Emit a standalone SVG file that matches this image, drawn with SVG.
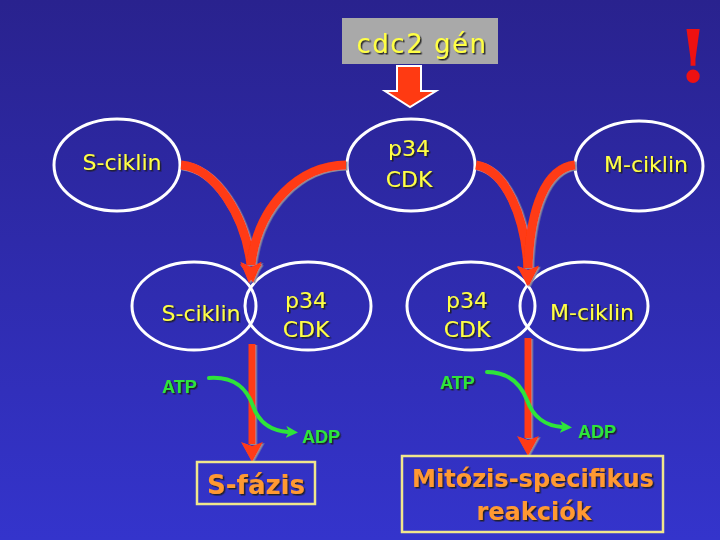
<svg xmlns="http://www.w3.org/2000/svg" width="720" height="540" viewBox="0 0 720 540">
<defs>
<linearGradient id="bg" x1="0" y1="0" x2="0" y2="1">
<stop offset="0" stop-color="#29228e"/>
<stop offset="1" stop-color="#3434cc"/>
</linearGradient>
<filter id="sh" x="-10%" y="-10%" width="130%" height="140%">
<feDropShadow dx="1.5" dy="1.5" stdDeviation="0.4" flood-color="#1a1a1a" flood-opacity="0.9"/>
</filter>
<filter id="ash" x="-20%" y="-20%" width="150%" height="150%">
<feDropShadow dx="1.5" dy="1" stdDeviation="0" flood-color="#8a8a9a"/>
</filter>
<marker id="rh" markerUnits="userSpaceOnUse" viewBox="0 0 20 22" markerWidth="20" markerHeight="22" refX="2" refY="11" orient="auto">
<path d="M0,0 L20,11 L0,22 L4,11 z" fill="#ff3a12"/>
</marker>
<marker id="gh" markerUnits="userSpaceOnUse" viewBox="0 0 12 12" markerWidth="12" markerHeight="12" refX="2" refY="6" orient="auto">
<path d="M0,0 L12,6 L0,12 L3,6 z" fill="#2ee43a"/>
</marker>
<style>
.ell{fill:none;stroke:#ffffff;stroke-width:3}
.yt{font-family:"DejaVu Sans",sans-serif;font-size:22px;fill:#ffff44;filter:url(#sh)}
.ot{font-family:"DejaVu Sans",sans-serif;font-weight:bold;fill:#ff9933;filter:url(#sh)}
.gt{font-family:"Liberation Sans",sans-serif;font-weight:bold;font-size:18px;fill:#2ee43a;filter:url(#sh)}
.red{fill:none;stroke:#ff3a12;stroke-width:9}
.rv{fill:none;stroke:#ff3a12;stroke-width:7}
.grn{fill:none;stroke:#2ee43a;stroke-width:4;stroke-linecap:round}
.box{fill:none;stroke:#f0e68c;stroke-width:2.5}
</style>
</defs>
<rect width="720" height="540" fill="url(#bg)"/>

<g id="gene">
<rect x="342" y="18" width="156" height="46" fill="#a9a9a9"/>
<text x="422" y="53" text-anchor="middle" class="yt" style="font-size:26px" letter-spacing="1.5">cdc2 gén</text>
<path d="M397,66 L421,66 L421,91 L436,91 L410,107 L385,91 L397,91 z" fill="#ff3a12" stroke="#ffffff" stroke-width="2"/>
</g>

<g id="excl">
<text x="693" y="82" text-anchor="middle" font-family="DejaVu Serif, serif" font-weight="bold" font-size="72" fill="#ee1111">!</text>
</g>

<g id="sciklin-top">
<ellipse class="ell" cx="117" cy="165" rx="63" ry="46"/>
<text x="122" y="170" text-anchor="middle" class="yt">S-ciklin</text>
</g>
<g id="p34-top">
<ellipse class="ell" cx="411" cy="165" rx="64" ry="46"/>
<text x="409" y="156" text-anchor="middle" class="yt">p34</text>
<text x="409" y="187" text-anchor="middle" class="yt">CDK</text>
</g>
<g id="mciklin-top">
<ellipse class="ell" cx="639" cy="166" rx="64" ry="45"/>
<text x="646" y="172" text-anchor="middle" class="yt">M-ciklin</text>
</g>

<g id="sciklin-mid">
<ellipse class="ell" cx="194" cy="306" rx="62" ry="44"/>
<text x="201" y="321" text-anchor="middle" class="yt">S-ciklin</text>
</g>
<g id="p34-mid1">
<ellipse class="ell" cx="308" cy="306" rx="63" ry="44"/>
<text x="306" y="308" text-anchor="middle" class="yt">p34</text>
<text x="306" y="337" text-anchor="middle" class="yt">CDK</text>
</g>
<g id="p34-mid2">
<ellipse class="ell" cx="471" cy="306" rx="64" ry="44"/>
<text x="467" y="308" text-anchor="middle" class="yt">p34</text>
<text x="467" y="337" text-anchor="middle" class="yt">CDK</text>
</g>
<g id="mciklin-mid">
<ellipse class="ell" cx="584" cy="306" rx="64" ry="44"/>
<text x="592" y="320" text-anchor="middle" class="yt">M-ciklin</text>
</g>

<g id="connectors">
<g filter="url(#ash)">
<path class="red" d="M181,165 C215,168 245,215 251,265" marker-end="url(#rh)"/>
<path class="red" d="M346,165 C300,165 258,205 251,265" marker-end="url(#rh)"/>
<path class="red" d="M476,165 C505,170 525,215 528,268" marker-end="url(#rh)"/>
<path class="red" d="M575,165 C545,168 530,210 528,268" marker-end="url(#rh)"/>
<path class="rv" d="M252,344 L252,444" marker-end="url(#rh)"/>
<path class="rv" d="M528,338 L528,438" marker-end="url(#rh)"/>
</g>
<path class="grn" d="M209,378 C238,376 248,392 253,406 C259,423 272,431 288,432" marker-end="url(#gh)"/>
<path class="grn" d="M487,372 C510,372 521,385 527,400 C533,417 546,426 562,427" marker-end="url(#gh)"/>
</g>

<g id="atp-left"><text x="162" y="393" class="gt">ATP</text></g>
<g id="adp-left"><text x="302" y="443" class="gt">ADP</text></g>
<g id="atp-right"><text x="440" y="389" class="gt">ATP</text></g>
<g id="adp-right"><text x="578" y="438" class="gt">ADP</text></g>

<g id="sfazis">
<rect class="box" x="197" y="462" width="118" height="42"/>
<text x="256" y="494" text-anchor="middle" class="ot" font-size="26">S-fázis</text>
</g>
<g id="mitozis">
<rect class="box" x="402" y="456" width="261" height="76"/>
<text x="533" y="487" text-anchor="middle" class="ot" font-size="24">Mitózis-specifikus</text>
<text x="534" y="520" text-anchor="middle" class="ot" font-size="24">reakciók</text>
</g>
</svg>
